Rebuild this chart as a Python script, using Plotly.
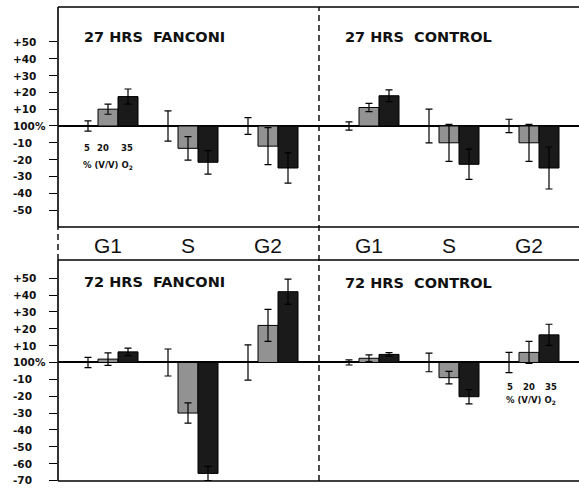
import plotly.graph_objects as go
from plotly.subplots import make_subplots

# Cell-cycle phases and O2 concentrations (% V/V)
phases = ["G1", "S", "G2"]
o2_levels = ["5", "20", "35"]

# Change relative to the 5% O2 culture (100%), in percent
fanconi_27_v20 = [10, -13.3, -12]
fanconi_27_v35 = [17.5, -21.6, -25]
fanconi_27_e5 = [3, 9, 5]
fanconi_27_e20 = [3, 7, 11]
fanconi_27_e35 = [4.5, 7, 9]

control_27_v20 = [11, -10, -10]
control_27_v35 = [18, -22.8, -25]
control_27_e5 = [2.5, 10, 4]
control_27_e20 = [2.5, 11, 11]
control_27_e35 = [3.5, 9, 12.5]

fanconi_72_v20 = [2, -30, 22]
fanconi_72_v35 = [6.3, -65.8, 42]
fanconi_72_e5 = [3, 8, 10.5]
fanconi_72_e20 = [3.7, 6, 9.5]
fanconi_72_e35 = [2.2, 4.2, 7.5]

control_72_v20 = [2.5, -9, 6]
control_72_v35 = [4.8, -20.3, 16.4]
control_72_e5 = [1.5, 5.5, 6]
control_72_e20 = [2, 3.7, 6.5]
control_72_e35 = [1, 4.2, 6.3]

panel_titles = ["27 HRS  FANCONI", "27 HRS  CONTROL", "72 HRS  FANCONI", "72 HRS  CONTROL"]
top_ticks = [50, 40, 30, 20, 10, 0, -10, -20, -30, -40, -50]
bottom_ticks = [50, 40, 30, 20, 10, 0, -10, -20, -30, -40, -50, -60, -70]


def tick_label(v):
    if v == 0:
        return "100%"
    return ("+" if v > 0 else "-") + str(abs(v))


W, H = 579, 489
ML, MT, MB, MR = 58, 7, 8, 0
PW, PH = W - ML - MR, H - MT - MB


def px(x):
    return (x - ML) / PW


def py(y):
    return (H - MB - y) / PH


xsplit = px(319)
top_lo, bot_hi = py(227), py(260)

fig = make_subplots(rows=2, cols=2)

panels = [
    (1, 1, fanconi_27_v20, fanconi_27_v35, fanconi_27_e5, fanconi_27_e20, fanconi_27_e35),
    (1, 2, control_27_v20, control_27_v35, control_27_e5, control_27_e20, control_27_e35),
    (2, 1, fanconi_72_v20, fanconi_72_v35, fanconi_72_e5, fanconi_72_e20, fanconi_72_e35),
    (2, 2, control_72_v20, control_72_v35, control_72_e5, control_72_e20, control_72_e35),
]

GRAY = "#929292"
BLACK = "#1a1a1a"

for r, c, v20, v35, e5, e20, e35 in panels:
    series = [
        ([0, 0, 0], e5, "white", 0),
        (v20, e20, GRAY, 1),
        (v35, e35, BLACK, 1),
    ]
    for (vals, errs, col, lw), lvl in zip(series, o2_levels):
        fig.add_trace(
            go.Bar(
                x=phases, y=vals, name=lvl + "% O2", showlegend=False,
                marker=dict(color=col, line=dict(color="black", width=lw)),
                error_y=dict(type="data", array=errs, visible=True,
                             color="black", thickness=1.2, width=3.5),
            ),
            row=r, col=c,
        )

fig.update_layout(
    width=W, height=H,
    margin=dict(l=ML, r=MR, t=MT, b=MB),
    paper_bgcolor="white", plot_bgcolor="white",
    barmode="group", bargap=0.25, bargroupgap=0,
    font=dict(family="DejaVu Sans", color="#111"),
)

# Axes: two columns, two rows
fig.update_xaxes(showgrid=False, showticklabels=False, ticks="", showline=False, zeroline=False)
fig.update_xaxes(domain=[0, xsplit], range=[-0.625, 2.6375], col=1)
fig.update_xaxes(domain=[xsplit, 1], range=[-0.625, 2.625], col=2)

common_y = dict(showgrid=False, showticklabels=False, showline=False,
                zeroline=True, zerolinecolor="black", zerolinewidth=1.5)
fig.update_yaxes(**common_y)
fig.update_yaxes(domain=[top_lo, 1], range=[-60.1, 70.8], row=1)
fig.update_yaxes(domain=[0, bot_hi], range=[-70.3, 60.8], row=2)
fig.update_yaxes(ticks="outside", ticklen=8, tickwidth=1, tickcolor="black",
                 tickvals=top_ticks, row=1, col=1)
fig.update_yaxes(ticks="outside", ticklen=8, tickwidth=1, tickcolor="black",
                 tickvals=bottom_ticks, row=2, col=1)
fig.update_yaxes(ticks="", col=2)

ann = []
# y tick labels, left aligned
for ticks, yname in [(top_ticks, "y"), (bottom_ticks, "y3")]:
    for t in ticks:
        ann.append(dict(x=px(11), xref="paper", y=t, yref=yname,
                        text="<b>" + tick_label(t) + "</b>",
                        xanchor="left", yanchor="middle", showarrow=False,
                        font=dict(size=10.5, family="DejaVu Sans", color="#111")))

# panel titles
for title, xa, yv in [(panel_titles[0], px(82), py(37)), (panel_titles[1], px(343), py(37)),
                      (panel_titles[2], px(82), py(282)), (panel_titles[3], px(343), py(283))]:
    ann.append(dict(x=xa, y=yv, xref="paper", yref="paper", text="<b>" + title + "</b>",
                    xanchor="left", yanchor="middle", showarrow=False,
                    font=dict(size=14.5, family="DejaVu Sans", color="#111")))

# phase labels in the band between rows
band_y = py(245)
for xname in ["x", "x2"]:
    for p in phases:
        ann.append(dict(x=p, xref=xname, y=band_y, yref="paper", text=p,
                        xanchor="center", yanchor="middle", showarrow=False,
                        font=dict(size=21, family="Liberation Sans", color="#111")))


# O2 key
def o2_key(x5, x20, x35, y1, xc, y2):
    out = []
    for lvl, xx in zip(o2_levels, [x5, x20, x35]):
        out.append(dict(x=px(xx), y=py(y1), xref="paper", yref="paper",
                        text="<b>" + lvl + "</b>", xanchor="center", yanchor="middle",
                        showarrow=False, font=dict(size=8.5, family="DejaVu Sans", color="#111")))
    out.append(dict(x=px(xc), y=py(y2), xref="paper", yref="paper",
                    text="<b>% (V/V) O<sub>2</sub></b>", xanchor="center", yanchor="middle",
                    showarrow=False, font=dict(size=8.5, family="DejaVu Sans", color="#111")))
    return out


ann += o2_key(87, 103, 127, 148, 108, 165)
ann += o2_key(510, 529, 551, 387, 531, 400)

fig.update_layout(annotations=ann)

# frame lines
line = dict(color="black", width=1.6)
dash = dict(color="black", width=1.4, dash="6px,4px")
shapes = [
    dict(type="line", xref="paper", yref="paper", x0=0, x1=1, y0=1, y1=1, line=line),
    dict(type="line", xref="paper", yref="paper", x0=0, x1=1, y0=top_lo, y1=top_lo, line=line),
    dict(type="line", xref="paper", yref="paper", x0=0, x1=1, y0=bot_hi, y1=bot_hi, line=line),
    dict(type="line", xref="paper", yref="paper", x0=0, x1=1, y0=0, y1=0, line=line),
    dict(type="line", xref="paper", yref="paper", x0=0, x1=0, y0=top_lo, y1=1, line=line),
    dict(type="line", xref="paper", yref="paper", x0=0, x1=0, y0=0, y1=bot_hi, line=line),
    dict(type="line", xref="paper", yref="paper", x0=0, x1=0, y0=bot_hi, y1=top_lo, line=dash),
    dict(type="line", xref="paper", yref="paper", x0=xsplit, x1=xsplit, y0=0, y1=1, line=dash),
]
fig.update_layout(shapes=shapes)

fig.write_html("out.html")
